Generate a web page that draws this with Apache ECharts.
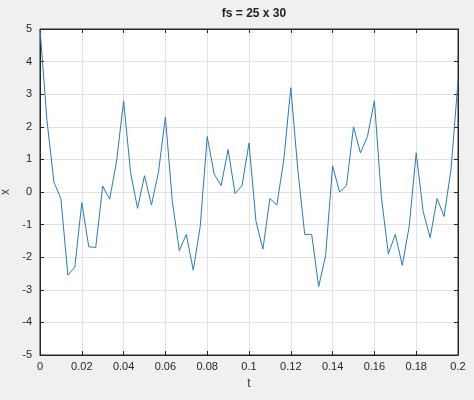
<!DOCTYPE html>
<html>
<head>
<meta charset="utf-8">
<script src="https://cdn.jsdelivr.net/npm/echarts@6/dist/echarts.min.js"></script>
<style>
html,body{margin:0;padding:0;background:#f0f0f0;}
#main{width:474px;height:400px;}
</style>
</head>
<body>
<div id="main"></div>
<script>
// sample step 1/300 s, 61 samples over 0..0.2
let dt = 1 / 300;
let xs = [5, 2.2, 0.3, -0.2, -2.55, -2.3, -0.33, -1.68, -1.7, 0.18,
    -0.22, 0.95, 2.8, 0.6, -0.5, 0.5, -0.4, 0.6, 2.3, -0.3,
    -1.8, -1.3, -2.4, -1.05, 1.7, 0.55, 0.2, 1.3, -0.05, 0.2,
    1.5, -0.9, -1.75, -0.2, -0.4, 1.0, 3.2, 0.7, -1.3, -1.3,
    -2.9, -1.95, 0.8, 0.0, 0.2, 2.0, 1.2, 1.7, 2.8, -0.15,
    -1.9, -1.3, -2.25, -1.05, 1.2, -0.6, -1.4, -0.2, -0.75, 0.7, 3.4];
let pts = [];
for (let k = 0; k < xs.length; k++) {
    pts.push([k * dt, xs[k]]);
}
let font = 'Liberation Sans, Arial, sans-serif';
let dark = '#262626';
function ax(type, pos, main) {
    let o = {
        type: 'value',
        position: pos,
        axisLine: {show: true, onZero: false, lineStyle: {color: dark}},
        axisTick: {inside: true, length: 4, lineStyle: {color: dark}},
        axisLabel: {show: main, fontSize: 11, color: dark, fontFamily: font, margin: 6},
        splitLine: {show: main, lineStyle: {color: '#e1e1e1'}}
    };
    if (type == 'x') {
        o.min = 0; o.max = 0.2; o.interval = 0.02;
        if (main) { o.name = 't'; o.nameLocation = 'middle'; o.nameGap = 23; }
    } else {
        o.min = -5; o.max = 5; o.interval = 1;
        o.axisLabel.margin = 8;
        if (main) { o.name = 'x'; o.nameLocation = 'middle'; o.nameGap = 25; }
    }
    o.nameTextStyle = {fontSize: 12, color: '#333', fontFamily: font};
    return o;
}
echarts.init(document.getElementById('main')).setOption({
    backgroundColor: '#f0f0f0',
    animation: false,
    title: {
        text: 'fs = 25 x 30',
        left: 249,
        top: 3,
        textAlign: 'center',
        textStyle: {fontSize: 12, fontWeight: 'bold', color: '#222', fontFamily: font}
    },
    grid: {
        left: 40,
        right: 16,
        top: 29,
        bottom: 45,
        containLabel: false,
        outerBoundsMode: 'none',
        show: true,
        backgroundColor: '#fff',
        borderColor: dark,
        borderWidth: 1
    },
    xAxis: [ax('x', 'bottom', true), ax('x', 'top', false)],
    yAxis: [ax('y', 'left', true), ax('y', 'right', false)],
    series: [{
        type: 'line',
        data: pts,
        showSymbol: false,
        lineStyle: {color: '#2a7bb0', width: 1},
        color: '#2a7bb0'
    }]
});
</script>
</body>
</html>
